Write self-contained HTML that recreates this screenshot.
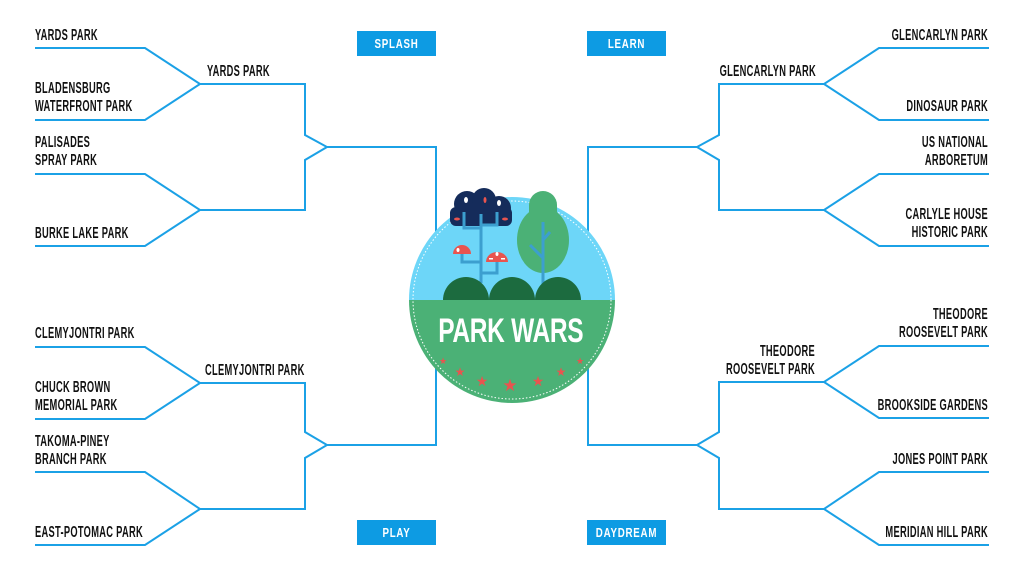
<!DOCTYPE html>
<html><head><meta charset="utf-8"><style>
html,body{margin:0;padding:0;background:#fff;}
svg{display:block;}
.t{font-family:"Liberation Sans",sans-serif;font-weight:bold;font-size:15.5px;fill:#111;letter-spacing:0.5px;}
.b{font-family:"Liberation Sans",sans-serif;font-weight:bold;font-size:13px;fill:#fff;letter-spacing:1px;}
</style></head><body>
<svg width="1024" height="576" viewBox="0 0 1024 576" xmlns="http://www.w3.org/2000/svg">
<g fill="none" stroke="#1ba1e6" stroke-width="2">
<polyline points="35,48 145,48 200,84 145,120 35,120"/>
<polyline points="35,174 145,174 200,210 145,246 35,246"/>
<polyline points="200,84 305,84 305,135 327,147 305,160 305,210 200,210"/>
<polyline points="327,147 436,147 436,300"/>
<polyline points="35,347 145,347 200,383 145,419 35,419"/>
<polyline points="35,472 145,472 200,509 145,545 35,545"/>
<polyline points="200,383 305,383 305,432 327,445 305,458 305,509 200,509"/>
<polyline points="327,445 436,445 436,300"/>
<polyline points="989,48 879,48 824,84 879,120 989,120"/>
<polyline points="989,174 879,174 824,210 879,246 989,246"/>
<polyline points="824,84 719,84 719,135 697,147 719,160 719,210 824,210"/>
<polyline points="697,147 588,147 588,300"/>
<polyline points="989,346 879,346 824,382 879,418 989,418"/>
<polyline points="989,472 879,472 824,509 879,545 989,545"/>
<polyline points="824,382 719,382 719,432 697,445 719,458 719,509 824,509"/>
<polyline points="697,445 588,445 588,300"/>
</g>
<rect x="357" y="31" width="79" height="25" fill="#0d9be3"/>
<rect x="587" y="31" width="79" height="25" fill="#0d9be3"/>
<rect x="357" y="520" width="79" height="25" fill="#0d9be3"/>
<rect x="587" y="520" width="79" height="25" fill="#0d9be3"/>
<g text-anchor="middle">
<text class="b" transform="translate(396.5,48) scale(0.75,1)">SPLASH</text>
<text class="b" transform="translate(626.5,48) scale(0.75,1)">LEARN</text>
<text class="b" transform="translate(396.5,537) scale(0.75,1)">PLAY</text>
<text class="b" transform="translate(626.5,537) scale(0.75,1)">DAYDREAM</text>
</g>
<g>
<text class="t" transform="translate(35,40) scale(0.6,1)">YARDS PARK</text>
<text class="t" transform="translate(35,93) scale(0.6,1)">BLADENSBURG</text>
<text class="t" transform="translate(35,111) scale(0.6,1)">WATERFRONT PARK</text>
<text class="t" transform="translate(35,147) scale(0.6,1)">PALISADES</text>
<text class="t" transform="translate(35,165) scale(0.6,1)">SPRAY PARK</text>
<text class="t" transform="translate(35,238) scale(0.6,1)">BURKE LAKE PARK</text>
<text class="t" transform="translate(207,76) scale(0.6,1)">YARDS PARK</text>
<text class="t" transform="translate(35,338) scale(0.6,1)">CLEMYJONTRI PARK</text>
<text class="t" transform="translate(35,392) scale(0.6,1)">CHUCK BROWN</text>
<text class="t" transform="translate(35,410) scale(0.6,1)">MEMORIAL PARK</text>
<text class="t" transform="translate(35,446) scale(0.6,1)">TAKOMA-PINEY</text>
<text class="t" transform="translate(35,464) scale(0.6,1)">BRANCH PARK</text>
<text class="t" transform="translate(35,537) scale(0.6,1)">EAST-POTOMAC PARK</text>
<text class="t" transform="translate(205,375) scale(0.6,1)">CLEMYJONTRI PARK</text>
</g>
<g text-anchor="end">
<text class="t" transform="translate(988,40) scale(0.6,1)">GLENCARLYN PARK</text>
<text class="t" transform="translate(988,111) scale(0.6,1)">DINOSAUR PARK</text>
<text class="t" transform="translate(988,147) scale(0.6,1)">US NATIONAL</text>
<text class="t" transform="translate(988,165) scale(0.6,1)">ARBORETUM</text>
<text class="t" transform="translate(988,219) scale(0.6,1)">CARLYLE HOUSE</text>
<text class="t" transform="translate(988,237) scale(0.6,1)">HISTORIC PARK</text>
<text class="t" transform="translate(816,76) scale(0.6,1)">GLENCARLYN PARK</text>
<text class="t" transform="translate(988,319) scale(0.6,1)">THEODORE</text>
<text class="t" transform="translate(988,337) scale(0.6,1)">ROOSEVELT PARK</text>
<text class="t" transform="translate(988,410) scale(0.6,1)">BROOKSIDE GARDENS</text>
<text class="t" transform="translate(988,464) scale(0.6,1)">JONES POINT PARK</text>
<text class="t" transform="translate(988,537) scale(0.6,1)">MERIDIAN HILL PARK</text>
<text class="t" transform="translate(815,356) scale(0.6,1)">THEODORE</text>
<text class="t" transform="translate(815,374) scale(0.6,1)">ROOSEVELT PARK</text>
</g>
<defs><clipPath id="c"><circle cx="512" cy="300" r="103"/></clipPath></defs>
<g clip-path="url(#c)">
<rect x="400" y="190" width="230" height="110" fill="#6dd6f8"/>
<rect x="400" y="300" width="230" height="110" fill="#4bb176"/>
</g>
<circle cx="512" cy="300" r="99" fill="none" stroke="#fff" stroke-width="1" stroke-dasharray="1.5,2"/>
<g fill="#152c5b">
<circle cx="467" cy="204" r="13"/>
<circle cx="484" cy="200" r="12"/>
<circle cx="499" cy="208" r="12"/>
<rect x="450" y="207" width="62" height="19" rx="6"/>
</g>
<g stroke="#3c9fcf" stroke-width="3" fill="none">
<line x1="481" y1="214" x2="481" y2="283"/>
<polyline points="464,212 464,228 481,228"/>
<polyline points="497,212 497,225 481,225"/>
<polyline points="462,252 462,262 481,262"/>
<polyline points="497,258 497,273 481,273"/>
</g>
<g fill="#fff"><ellipse cx="466" cy="200" rx="2" ry="3"/><ellipse cx="499" cy="203" rx="2" ry="3"/></g>
<g fill="#e9544f"><ellipse cx="485" cy="200" rx="1.5" ry="3"/><ellipse cx="457" cy="219" rx="3" ry="1.5"/><ellipse cx="505" cy="219" rx="3" ry="1.5"/></g>
<g fill="#4bb176">
<circle cx="543" cy="205" r="14"/>
<ellipse cx="543" cy="240" rx="26" ry="33"/>
<rect x="529" y="205" width="28" height="20"/>
</g>
<g stroke="#3c9fcf" stroke-width="3" fill="none">
<line x1="543" y1="222" x2="543" y2="286"/>
<line x1="543" y1="258" x2="530" y2="245"/>
<line x1="543" y1="240" x2="550" y2="232"/>
</g>
<g fill="#e9544f">
<path d="M453,254 a9,9 0 0 1 18,0 z"/>
<path d="M486,262 a11,10 0 0 1 22,0 z"/>
</g>
<g fill="#fff"><ellipse cx="458" cy="250" rx="1.5" ry="2"/><ellipse cx="497" cy="254" rx="1.5" ry="2"/><rect x="489" y="258" width="4" height="1.5"/><rect x="501" y="258" width="4" height="1.5"/></g>
<g fill="#1c6b3f">
<path d="M443,300 a23,23 0 0 1 46,0 z"/>
<path d="M489,300 a23,23 0 0 1 46,0 z"/>
<path d="M535,300 a23,23 0 0 1 46,0 z"/>
</g>
<text x="512" y="342" text-anchor="middle" font-family="Liberation Sans,sans-serif" font-weight="bold" font-size="34" fill="#fff" letter-spacing="3" transform="translate(512,0) scale(0.72,1) translate(-512,0)" textLength="205">PARK WARS</text>
<g fill="#e9544f" font-family="DejaVu Sans,sans-serif" text-anchor="middle">
<text x="443" y="364" font-size="9">★</text>
<text x="460" y="376" font-size="12">★</text>
<text x="482" y="386" font-size="14">★</text>
<text x="510" y="391" font-size="17">★</text>
<text x="538" y="386" font-size="14">★</text>
<text x="561" y="376" font-size="12">★</text>
<text x="580" y="364" font-size="9">★</text>
</g>
</svg>
</body></html>
